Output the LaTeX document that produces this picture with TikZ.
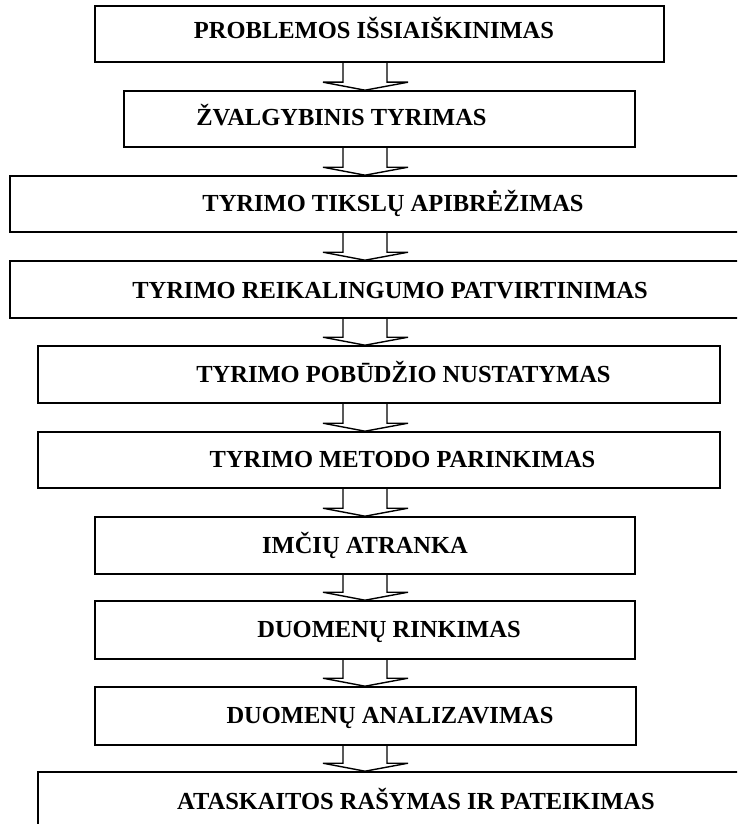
\documentclass[tikz,border=0pt]{standalone}
\usepackage{fontspec}
\setmainfont{Liberation Serif}
\begin{document}
\begin{tikzpicture}[x=1pt,y=-1pt,
  box/.style={draw, line width=1.6pt, rectangle, inner sep=0pt, fill=none},
  lbl/.style={anchor=base, inner sep=0pt, font=\bfseries\fontsize{24.5}{29}\selectfont},
  arr/.style={draw, line width=1.4pt, line join=miter}]
\useasboundingbox (0,0) rectangle (737,824);
\clip (0,0) rectangle (737,824);
\fill[white] (0,0) rectangle (737,824);

% boxes: name / left / top / right / bottom
\foreach \n/\l/\t/\r/\b in {b1/95/6/664/62, b2/124/91/635/147, b3/10/176/760/232,
    b4/10/261/760/318, b5/38/346/720/403, b6/38/432/720/488, b7/95/517/635/574,
    b8/95/601/635/659, b9/95/687/636/745, b10/38/772/760/850}
  \node[box, minimum width={(\r-\l)*1pt}, minimum height={(\b-\t)*1pt}]
    (\n) at ({(\l+\r)/2},{(\t+\b)/2}) {};

% step labels
\node[lbl] (t1)  at (374,39)  {PROBLEMOS IŠSIAIŠKINIMAS};
\node[lbl] (t2)  at (341.5,126) {ŽVALGYBINIS TYRIMAS};
\node[lbl] (t3)  at (393,211) {TYRIMO TIKSLŲ APIBRĖŽIMAS};
\node[lbl] (t4)  at (390,298) {TYRIMO REIKALINGUMO PATVIRTINIMAS};
\node[lbl] (t5)  at (403.5,382) {TYRIMO POBŪDŽIO NUSTATYMAS};
\node[lbl] (t6)  at (402.5,467) {TYRIMO METODO PARINKIMAS};
\node[lbl] (t7)  at (365,553) {IMČIŲ ATRANKA};
\node[lbl] (t8)  at (389,637) {DUOMENŲ RINKIMAS};
\node[lbl] (t9)  at (390,723) {DUOMENŲ ANALIZAVIMAS};
\node[lbl] (t10) at (416,809) {ATASKAITOS RAŠYMAS IR PATEIKIMAS};

% hollow block arrows between consecutive boxes
\coordinate (ax) at (365,0);
\newcommand\blockarrow[2]{%
  \path (ax |- #1.south) coordinate (ta) (ax |- #2.north) coordinate (ha);
  \draw[arr] ([xshift=-22pt]ta) -- ([xshift=-22pt,yshift=8pt]ha)
    -- ([xshift=-42pt,yshift=8pt]ha) -- (ha)
    -- ([xshift=43pt,yshift=8pt]ha) -- ([xshift=22pt,yshift=8pt]ha)
    -- ([xshift=22pt]ta);}
\blockarrow{b1}{b2}
\blockarrow{b2}{b3}
\blockarrow{b3}{b4}
\blockarrow{b4}{b5}
\blockarrow{b5}{b6}
\blockarrow{b6}{b7}
\blockarrow{b7}{b8}
\blockarrow{b8}{b9}
\blockarrow{b9}{b10}
\end{tikzpicture}
\end{document}
